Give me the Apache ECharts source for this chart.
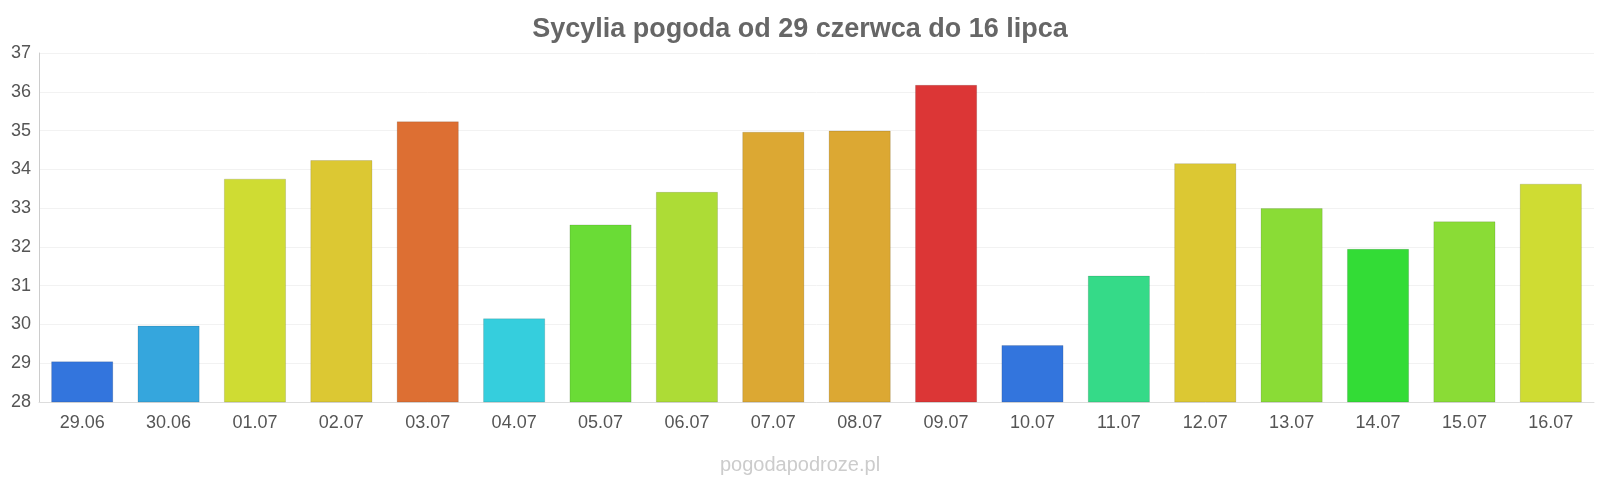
<!DOCTYPE html>
<html>
<head>
<meta charset="utf-8">
<script src="https://cdn.jsdelivr.net/npm/echarts@6/dist/echarts.min.js"></script>
<style>html,body{margin:0;padding:0;background:#fff}#chart{width:1600px;height:480px}</style>
</head>
<body>
<div id="chart"></div>
<script>
var days = ['29.06','30.06','01.07','02.07','03.07','04.07','05.07','06.07','07.07','08.07','09.07','10.07','11.07','12.07','13.07','14.07','15.07','16.07'];
var temps = [29.05, 29.97, 33.76, 34.24, 35.24, 30.16, 32.58, 33.42, 34.97, 35.0, 36.18, 29.47, 31.26, 34.16, 33.0, 31.95, 32.66, 33.63];
var colors = ['#3375dd','#35a6dd','#cfdc33','#dcc833','#dd6f33','#35cedd','#6adc36','#addc36','#dca833','#dca833','#dc3636','#3375dd','#35da88','#dcc833','#8adc36','#33dc36','#8adc36','#cfdc33'];

var chart = echarts.init(document.getElementById('chart'));
chart.setOption({
  animation: false,
  title: [{
    text: 'Sycylia pogoda od 29 czerwca do 16 lipca',
    left: 'center', top: 11,
    textStyle: { fontFamily: 'Liberation Sans', fontSize: 27, fontWeight: 'bold', color: '#666' }
  }, {
    text: 'pogodapodroze.pl',
    left: 'center', top: 450,
    textStyle: { fontFamily: 'Liberation Sans', fontSize: 20, fontWeight: 'normal', color: '#ccc' }
  }],
  grid: { left: 39, right: 6, top: 53, bottom: 78 },
  xAxis: {
    type: 'category', data: days,
    axisLine: { lineStyle: { color: '#ddd' } },
    axisTick: { show: false },
    axisLabel: { fontFamily: 'Liberation Sans', fontSize: 18, color: '#555', margin: 12 }
  },
  yAxis: {
    type: 'value', min: 28, max: 37, interval: 1,
    axisLine: { show: true, lineStyle: { color: '#ccc' } },
    splitLine: { lineStyle: { color: '#f2f2f2' } },
    axisLabel: { fontFamily: 'Liberation Sans', fontSize: 18, color: '#555', margin: 8 }
  },
  series: [{
    type: 'bar', barWidth: '72%',
    data: temps.map(function (v, i) {
      return { value: v, itemStyle: { color: colors[i], borderColor: 'rgba(0,0,0,0.12)', borderWidth: 1 } };
    })
  }]
});
</script>
</body>
</html>
